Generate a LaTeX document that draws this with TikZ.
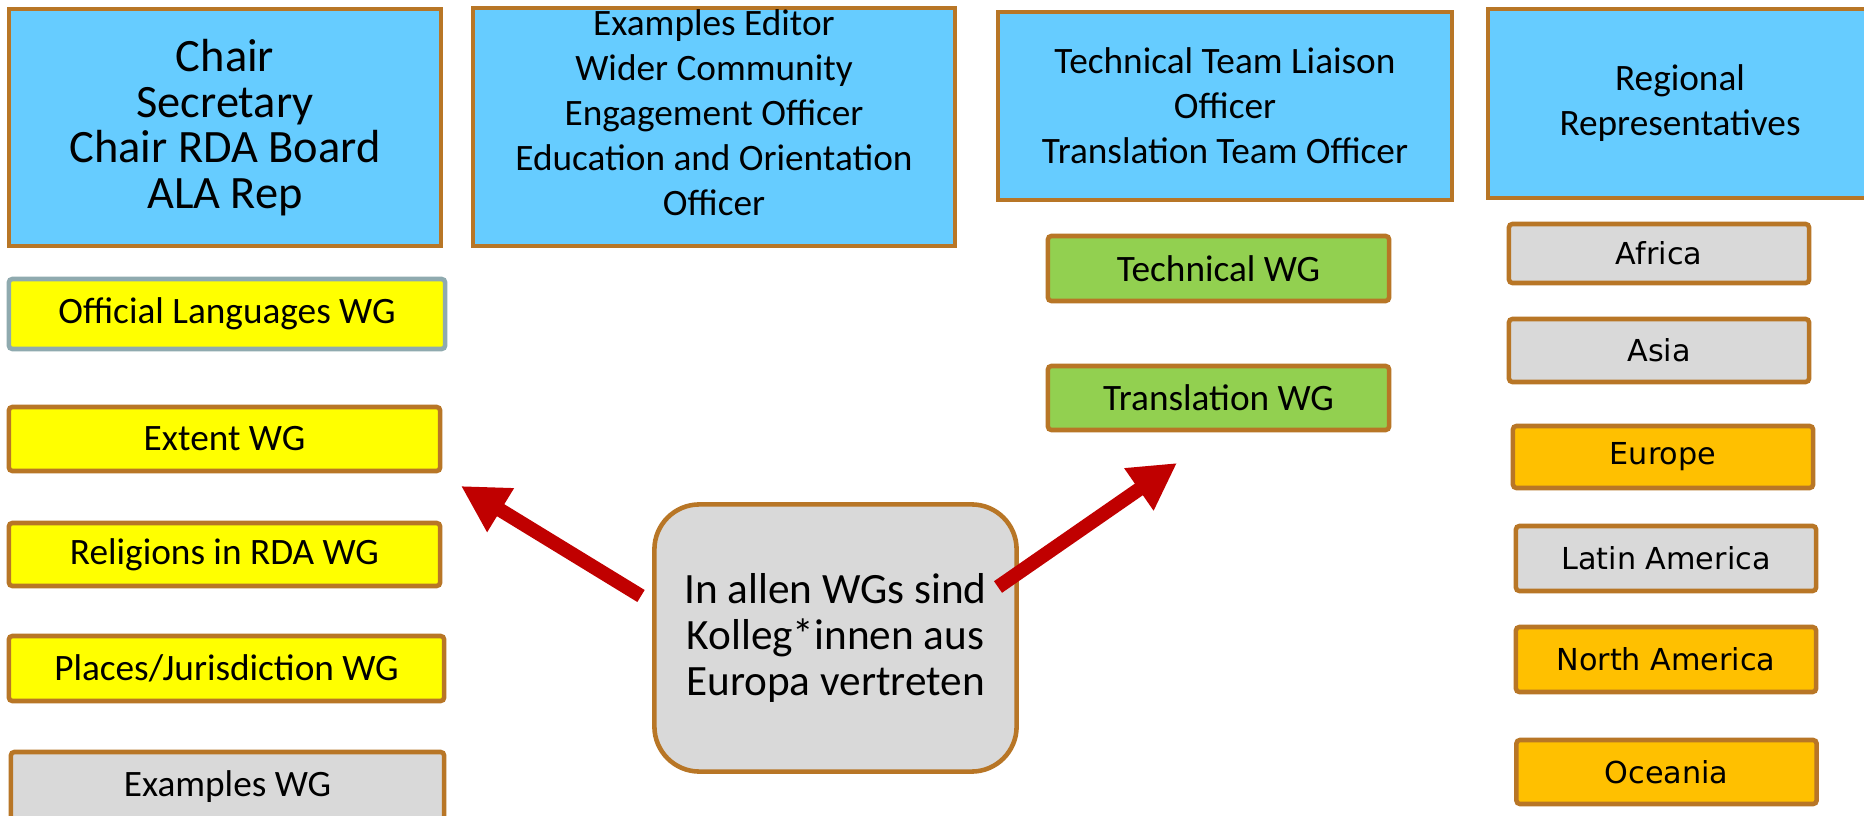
\documentclass[tikz,border=0pt]{standalone}
\usepackage{fontspec}
\setmainfont{Carlito}
\newfontfamily\regionfont{DejaVu Sans}
\usetikzlibrary{arrows.meta, calc}

\definecolor{boxbrown}{RGB}{184,118,38}
\definecolor{officeblue}{RGB}{102,204,255}
\definecolor{wgyellow}{RGB}{255,255,0}
\definecolor{wggray}{RGB}{217,217,217}
\definecolor{wggreen}{RGB}{146,208,80}
\definecolor{wgorange}{RGB}{255,192,0}
\definecolor{slateedge}{RGB}{143,170,175}
\definecolor{arrowred}{RGB}{192,0,0}

\begin{document}
\begin{tikzpicture}[x=0.01cm, y=-0.01cm,
    office/.style={draw=boxbrown, fill=officeblue, line width=1.3pt, align=center, inner sep=0pt,
        font=\fontsize{10.6}{12.8}\selectfont},
    wgbox/.style={draw=boxbrown, line width=1.3pt, inner sep=0pt, rounded corners=1pt,
        font=\fontsize{10.6}{12.8}\selectfont},
    regbox/.style={wgbox, minimum width=3.0cm, font=\regionfont\fontsize{8.6}{10}\selectfont},
    bigarrow/.style={arrowred, line width=4pt, -{Triangle[length=13.2pt, width=13.7pt]}}]
                        \clip (0,0) rectangle (1864,816);
                        \fill[white] (0,0) rectangle (1864,816);
                        \node[office, minimum width=4.32cm, minimum height=2.37cm, font=\fontsize{13.2}{13}\selectfont] (chair) at (225,127.5) {Chair\\Secretary\\Chair RDA Board\\ALA Rep};
                        \node[office, minimum width=4.82cm, minimum height=2.38cm] (editor) at (714,127) {};
                        \node[align=center, font=\fontsize{10.6}{12.8}\selectfont] (editortext) at ($(editor)+(0,-14)$) {Examples Editor\\Wider Community\\Engagement Officer\\Education and Orientation\\Officer};
                        \node[office, minimum width=4.54cm, minimum height=1.88cm] (liaison) at (1225,106) {Technical Team Liaison\\Officer\\Translation Team Officer};
                        \node[office, minimum width=3.84cm, minimum height=1.89cm] (regional) at (1680,103.5) {Regional\\Representatives};
                        \node[wgbox, draw=slateedge, fill=wgyellow, minimum width=4.36cm, minimum height=0.70cm] (official) at (227,314) {Official Languages WG};
                        \node[wgbox, fill=wgyellow, minimum width=4.31cm, minimum height=0.64cm] (extent) at (224.5,439) {Extent WG};
                        \node[wgbox, fill=wgyellow, minimum width=4.31cm, minimum height=0.63cm] (religions) at (224.5,554.5) {Religions in RDA WG};
                        \node[wgbox, fill=wgyellow, minimum width=4.35cm, minimum height=0.65cm] (places) at (226.5,668.5) {Places/Jurisdiction WG};
                        \node[wgbox, fill=wggray, minimum width=4.33cm, minimum height=0.70cm] (examples) at (227.5,787) {Examples WG};
                        \node[wgbox, fill=wggreen, minimum width=3.41cm, minimum height=0.65cm] (technical) at (1218.5,268.5) {Technical WG};
                        \node[wgbox, fill=wggreen, minimum width=3.41cm, minimum height=0.64cm] (translation) at (1218.5,398) {Translation WG};
                        \node[regbox, fill=wggray, minimum height=0.59cm] (africa) at (1659,253.5) {Africa};
                        \node[regbox, fill=wggray, minimum height=0.63cm] (asia) at (1659,350.5) {Asia};
                        \node[regbox, fill=wgorange, minimum height=0.62cm] (europe) at (1663,457) {Europe};
                        \node[regbox, fill=wggray, minimum height=0.65cm] (latam) at (1666,558.5) {Latin America};
                        \node[regbox, fill=wgorange, minimum height=0.65cm] (northam) at (1666,659.5) {North America};
                        \node[regbox, fill=wgorange, minimum height=0.64cm] (oceania) at (1666.5,772) {Oceania};
                        \node[draw=boxbrown, fill=wggray, line width=1.3pt, rounded corners=0.45cm, align=center, inner sep=0pt,
                            minimum width=3.62cm, minimum height=2.67cm, font=\fontsize{12.3}{13.1}\selectfont] (note) at (835.5,638) {In allen WGs sind\\Kolleg*innen aus\\Europa vertreten};
                        \coordinate (lefttail) at (641,596);
                        \coordinate (lefttip) at (461,486);
                        \coordinate (righttail) at (998,587);
                        \coordinate (righttip) at (1177,463);
                        \draw[bigarrow] (lefttail) -- (lefttip);
                        \draw[bigarrow] (righttail) -- (righttip);
                    \end{tikzpicture}
\end{document}
